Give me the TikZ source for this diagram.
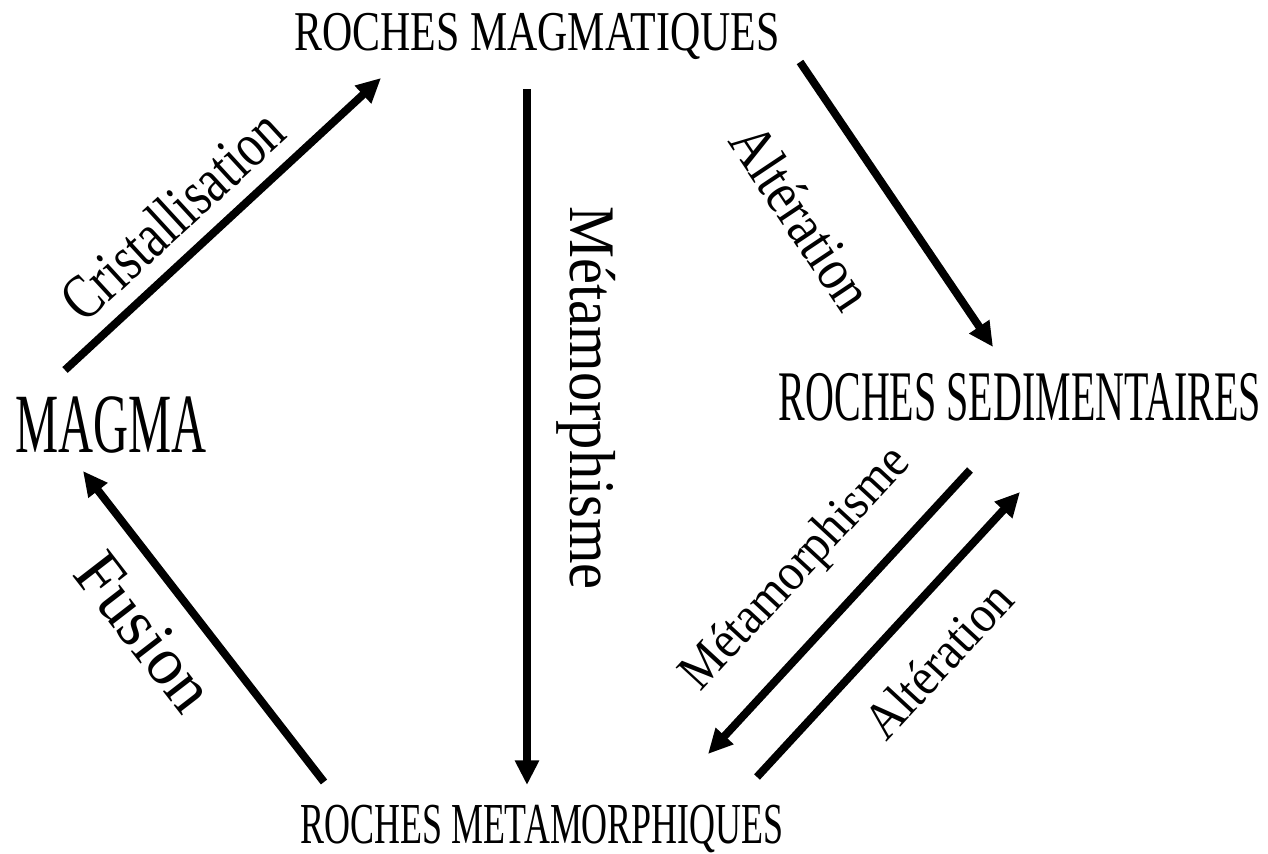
\documentclass[tikz,border=0pt]{standalone}
\usepackage{fontspec}
\setmainfont{Liberation Serif}
\usetikzlibrary{arrows.meta}
\newcommand{\sqz}[3]{\scalebox{#1}[1]{\fontsize{#2}{#2}\selectfont #3}}
\tikzset{
	rock/.style={inner sep=0pt,anchor=base},
	proc/.style={inner sep=0pt},
	flow/.style={draw=black,line width=4.5pt,-{Triangle[length=14pt,width=13pt]}},
}
\begin{document}
\begin{tikzpicture}[x=0.02cm,y=-0.02cm]
	\useasboundingbox (0,0) rectangle (1268,853);
	\node[rock] (mag) at (537,50) {\sqz{0.745}{32pt}{ROCHES MAGMATIQUES}};
	\node[rock] (magma) at (111,452) {\sqz{0.575}{48pt}{MAGMA}};
	\node[rock] (sed) at (1020,420) {\sqz{0.562}{40.5pt}{ROCHES SEDIMENTAIRES}};
	\node[rock] (met) at (542,843) {\sqz{0.62}{33pt}{ROCHES METAMORPHIQUES}};
	\coordinate (a1) at (65,370);
	\coordinate (a2) at (381,78);
	\coordinate (b1) at (527,89);
	\coordinate (b2) at (527,785);
	\coordinate (c1) at (800,62);
	\coordinate (c2) at (993,347);
	\coordinate (d1) at (970,470);
	\coordinate (d2) at (708,754);
	\coordinate (e1) at (757,777);
	\coordinate (e2) at (1020,492);
	\coordinate (f1) at (324,782);
	\coordinate (f2) at (83,471);
	\draw[flow] (a1) -- (a2);
	\draw[flow] (b1) -- (b2);
	\draw[flow] (c1) -- (c2);
	\draw[flow] (d1) -- (d2);
	\draw[flow] (e1) -- (e2);
	\draw[flow] (f1) -- (f2);
	\node[proc,rotate=42.6] (cri) at (172,215) {\sqz{0.78}{36pt}{Cristallisation}};
	\node[proc,rotate=-90] (meta) at (586,398) {\sqz{0.9}{37pt}{Métamorphisme}};
	\node[proc,rotate=-56.3] (alt) at (802,217) {\sqz{0.86}{34pt}{Altération}};
	\node[proc,rotate=47.3] (metb) at (797,570) {\sqz{0.9}{30pt}{Métamorphisme}};
	\node[proc,rotate=47.3] (altb) at (938,660) {\sqz{0.9}{30pt}{Altération}};
	\node[proc,rotate=-52.3] (fus) at (145,632) {\sqz{0.97}{39pt}{Fusion}};
\end{tikzpicture}
\end{document}
